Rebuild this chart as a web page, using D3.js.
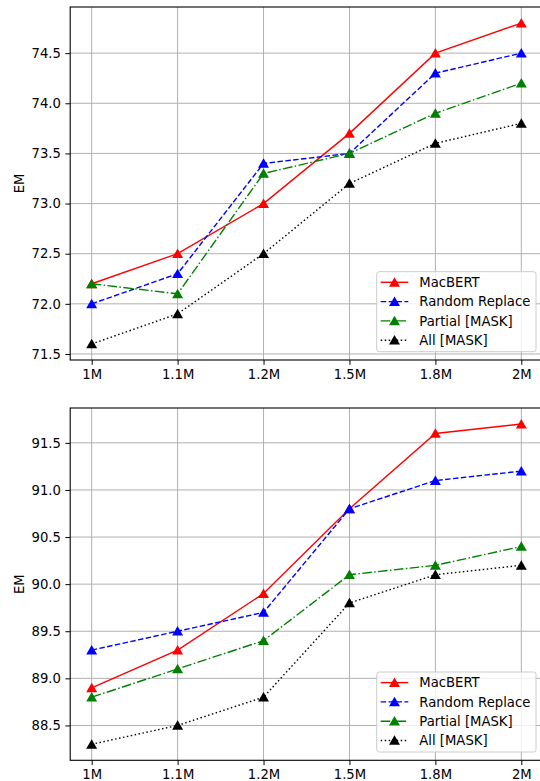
<!DOCTYPE html>
<html><head><meta charset="utf-8">
<script src="https://cdn.jsdelivr.net/npm/d3@7"></script>
<style>body{margin:0;background:#fff}svg{display:block}text{font-family:"DejaVu Sans",sans-serif}</style>
</head><body>
<svg id="c" width="540" height="781"></svg>
<script>
const categories = ["1M","1.1M","1.2M","1.5M","1.8M","2M"];
const seriesNames = ["MacBERT","Random Replace","Partial [MASK]","All [MASK]"];
const topMacBERT = [72.2,72.5,73.0,73.7,74.5,74.8];
const topRandom  = [72.0,72.3,73.4,73.5,74.3,74.5];
const topPartial = [72.2,72.1,73.3,73.5,73.9,74.2];
const topAll     = [71.6,71.9,72.5,73.2,73.6,73.8];
const botMacBERT = [88.9,89.3,89.9,90.8,91.6,91.7];
const botRandom  = [89.3,89.5,89.7,90.8,91.1,91.2];
const botPartial = [88.8,89.1,89.4,90.1,90.2,90.4];
const botAll     = [88.3,88.5,88.8,89.8,90.1,90.2];
const topTicks = [71.5,72.0,72.5,73.0,73.5,74.0,74.5];
const botTicks = [88.5,89.0,89.5,90.0,90.5,91.0,91.5];

const styles = [
  {color:"#ff0000", dash:null},
  {color:"#0000ff", dash:"5.5,2.4"},
  {color:"#008000", dash:"9.6,2.4,1.5,2.4"},
  {color:"#000000", dash:"1.5,2.5"}
];
const svg = d3.select("#c");
const FS = 13.2;

function panel(top, bottom, seriesData, ticks) {
  const left = 70.2, right = 542.8;
  const all = seriesData.flat();
  const mn = d3.min(all), mx = d3.max(all), m = (mx-mn)*0.05;
  const x = d3.scaleLinear().domain([-0.25, categories.length-0.75]).range([left, right]);
  const y = d3.scaleLinear().domain([mn-m, mx+m]).range([bottom, top]);
  const g = svg.append("g");
  g.selectAll(".gx").data(categories).enter().append("line")
    .attr("x1",(d,i)=>x(i)).attr("x2",(d,i)=>x(i)).attr("y1",top).attr("y2",bottom)
    .attr("stroke","#b0b0b0").attr("stroke-width",1);
  g.selectAll(".gy").data(ticks).enter().append("line")
    .attr("x1",left).attr("x2",right).attr("y1",d=>y(d)).attr("y2",d=>y(d))
    .attr("stroke","#b0b0b0").attr("stroke-width",1);
  const xa = d3.axisBottom(x).tickValues(d3.range(categories.length)).tickFormat(i=>categories[i]).tickSize(4.8).tickPadding(4.5);
  const ya = d3.axisLeft(y).tickValues(ticks).tickFormat(d3.format(".1f")).tickSize(4.8).tickPadding(4.5);
  const gx = g.append("g").attr("transform",`translate(0,${bottom})`).call(xa);
  const gy = g.append("g").attr("transform",`translate(${left},0)`).call(ya);
  [gx,gy].forEach(a=>{
    a.select(".domain").remove();
    a.selectAll("text").attr("font-size",FS).attr("fill","#000").attr("font-family","DejaVu Sans");
    a.selectAll("line").attr("stroke","#000").attr("stroke-width",1);
  });
  g.append("rect").attr("x",left).attr("y",top).attr("width",right-left).attr("height",bottom-top)
    .attr("fill","none").attr("stroke","#000").attr("stroke-width",1.1);
  const line = d3.line().x((d,i)=>x(i)).y(d=>y(d));
  seriesData.forEach((s,k)=>{
    g.append("path").datum(s).attr("d",line).attr("fill","none")
      .attr("stroke",styles[k].color).attr("stroke-width",1.4)
      .attr("stroke-dasharray",styles[k].dash);
    g.selectAll(null).data(s).enter().append("path")
      .attr("d",d3.symbol(d3.symbolTriangle).size(52))
      .attr("transform",(d,i)=>`translate(${x(i)},${y(d)+1.2})`)
      .attr("fill",styles[k].color);
  });
  g.append("text").attr("transform",`translate(23.5,${(top+bottom)/2}) rotate(-90)`)
    .attr("text-anchor","middle").attr("font-size",FS).text("EM");
  const lx = 376.7, lw = 159.3, ly = bottom-88.3, lh = 80;
  g.append("rect").attr("x",lx).attr("y",ly).attr("width",lw).attr("height",lh)
    .attr("rx",2.5).attr("fill","#fff").attr("fill-opacity",0.8).attr("stroke","#cccccc").attr("stroke-width",1);
  seriesNames.forEach((n,k)=>{
    const yy = ly + 10.6 + k*19.3;
    g.append("line").attr("x1",380.7).attr("x2",408.3).attr("y1",yy).attr("y2",yy)
      .attr("stroke",styles[k].color).attr("stroke-width",1.4).attr("stroke-dasharray",styles[k].dash);
    g.append("path").attr("d",d3.symbol(d3.symbolTriangle).size(52))
      .attr("transform",`translate(394.5,${yy+1.2})`).attr("fill",styles[k].color);
    g.append("text").attr("x",419.3).attr("y",yy+4.7).attr("font-size",FS).text(n);
  });
}
panel(7, 360, [topMacBERT,topRandom,topPartial,topAll], topTicks);
panel(408, 760.3, [botMacBERT,botRandom,botPartial,botAll], botTicks);
</script>
</body></html>
